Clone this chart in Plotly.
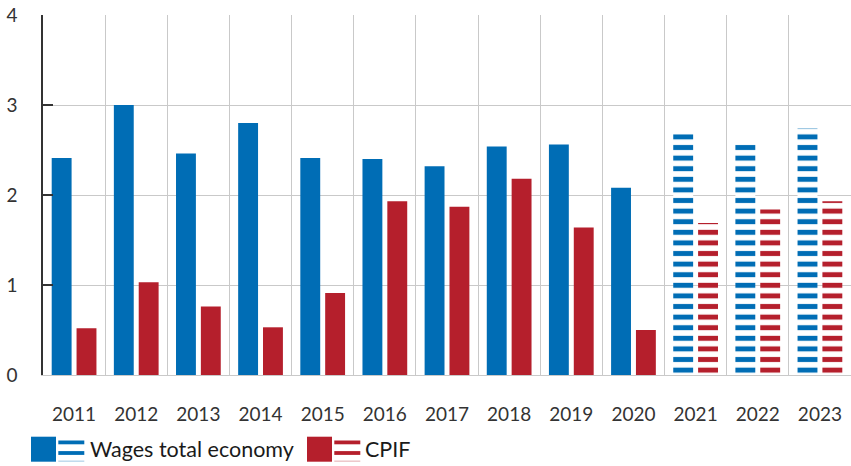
import plotly.graph_objects as go

years = ["2011", "2012", "2013", "2014", "2015", "2016", "2017",
         "2018", "2019", "2020", "2021", "2022", "2023"]
wages = [2.41, 3.00, 2.46, 2.80, 2.41, 2.40, 2.32, 2.54, 2.56, 2.08, 2.68, 2.56, 2.74]
cpif = [0.52, 1.03, 0.76, 0.53, 0.91, 1.93, 1.87, 2.18, 1.64, 0.50, 1.69, 1.84, 1.93]
forecast = [False] * 10 + [True] * 3

BLUE = "#006DB5"
RED = "#B51F2C"
GRID = "#c9c9c9"
AXIS = "#333333"
TXT = "#333333"
FONT = "Lato"

W, H = 851, 466
L, R, T, B = 43, 0, 15, 91


def px2x(px):
    return (px - L) / (W - L - R)


def px2y(py):
    return (H - B - py) / (H - T - B)


def bar_trace(name, vals, color):
    return go.Bar(
        x=years, y=vals, name=name,
        marker=dict(
            color=color,
            line=dict(width=0),
            pattern=dict(
                shape=["-" if f else "" for f in forecast],
                fgcolor=color, bgcolor="white",
                size=10.6, solidity=0.47, fillmode="replace",
            ),
        ),
        showlegend=False,
    )


fig = go.Figure()
fig.add_trace(bar_trace("Wages total economy", wages, BLUE))
fig.add_trace(bar_trace("CPIF", cpif, RED))

# manual legend (solid + striped swatch, then label)
shapes = []
annotations = []


def swatch(x0, color, label, text_x):
    shapes.append(dict(type="rect", xref="paper", yref="paper",
                       x0=px2x(x0), x1=px2x(x0 + 25), y0=px2y(461.7), y1=px2y(436.7),
                       fillcolor=color, line=dict(width=0)))
    sx = x0 + 27.3
    for (a, b, op) in [(440.5, 444.3, 1.0), (451.1, 454.9, 1.0), (460.6, 461.7, 0.35)]:
        shapes.append(dict(type="rect", xref="paper", yref="paper",
                           x0=px2x(sx), x1=px2x(sx + 26), y0=px2y(b), y1=px2y(a),
                           fillcolor=color, opacity=op, line=dict(width=0)))
    annotations.append(dict(xref="paper", yref="paper", x=px2x(text_x), y=px2y(449),
                            text=label, showarrow=False, xanchor="left", yanchor="middle",
                            font=dict(family=FONT, size=21.5, color="#1a1a1a")))


swatch(31, BLUE, "Wages total economy", 88)
swatch(307, RED, "CPIF", 363)

fig.update_layout(
    width=W, height=H,
    margin=dict(l=L, r=R, t=T, b=B, pad=0),
    plot_bgcolor="white", paper_bgcolor="white",
    barmode="group", bargap=0.2, bargroupgap=0.2,
    font=dict(family=FONT, size=19, color=TXT),
    showlegend=False,
    shapes=shapes, annotations=annotations,
)
fig.update_xaxes(
    type="category", tickson="boundaries", showgrid=True, gridcolor=GRID, gridwidth=1,
    ticks="", showline=True, linecolor=GRID, linewidth=1,
    ticklabelstandoff=22, tickfont=dict(family=FONT, size=19, color=TXT),
)
fig.update_yaxes(
    range=[0, 4], dtick=1, showgrid=True, gridcolor=GRID, gridwidth=1,
    zeroline=False, showline=True, linecolor=AXIS, linewidth=1.5,
    ticks="inside", ticklen=10, tickcolor=AXIS, tickwidth=1.5,
    ticklabelstandoff=20, tickfont=dict(family=FONT, size=19, color=TXT),
)

fig.write_html(
    "out.html",
    config={"displayModeBar": False},
    post_script="document.body.style.margin='0';document.body.style.overflow='hidden';",
)
